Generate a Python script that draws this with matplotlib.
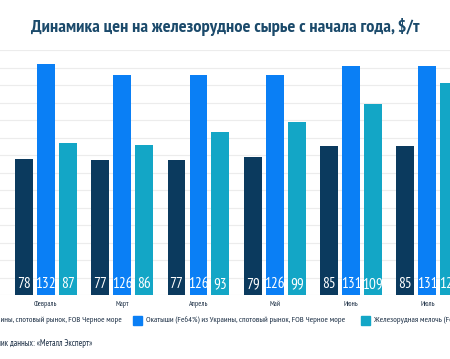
import matplotlib
matplotlib.use("Agg")
import matplotlib.pyplot as plt
from matplotlib.patches import Rectangle
from matplotlib import font_manager
import numpy as np

months = ["Январь", "Февраль", "Март", "Апрель", "Май", "Июнь", "Июль"]
concentrate = [74, 78, 77, 77, 79, 85, 85]
pellets = [120, 132, 126, 126, 126, 131, 131]
fines = [76, 87, 86, 93, 99, 109, 121]

series_labels = [
    "Концентрат (Fe65%) из Украины, спотовый рынок, FOB Черное море",
    "Окатыши (Fe64%) из Украины, спотовый рынок, FOB Черное море",
    "Железорудная мелочь (Fe62%) из Украины, спотовый рынок, FOB Черное море",
]
colors = ["#0b3a5e", "#0a7ff5", "#13a6c6"]
title = "Динамика цен на железорудное сырье с начала года, $/т"
source = "Источник данных: «Металл Эксперт»"

# pick a narrow font that is actually installed
have = {f.name for f in font_manager.fontManager.ttflist}
cands = ["PT Sans Narrow", "Roboto Condensed", "Open Sans Condensed",
         "Fira Sans Condensed", "Sofia Sans Condensed", "Liberation Sans Narrow"]
narrow = [c for c in cands if c in have][:1] + ["DejaVu Sans"]

W, H = 450, 359
fig = plt.figure(figsize=(4.5, 3.59), dpi=100)
fig.patch.set_facecolor("white")

# axes spans the full width; bars outside the figure get cut off like the source crop
ax = fig.add_axes([0, (H - 295) / H, 1, (295 - 50) / H])
group_px = 76.3
left = 1 - 45.8 / group_px
ax.set_xlim(left, left + W / group_px)
ax.set_ylim(0, 140)

x = np.arange(len(months))
width = 0.233
step = 0.288
for k, vals in enumerate([concentrate, pellets, fines]):
    pos = x + (k - 1) * step
    ax.bar(pos, vals, width, color=colors[k], zorder=3)
    for p, v in zip(pos, vals):
        ax.text(p, 2.0, str(v), ha="center", va="bottom", color="white",
                fontsize=11, family=narrow, zorder=4)

ax.set_yticks(np.arange(0, 141, 10))
ax.yaxis.grid(True, color="#ececec", lw=0.8, zorder=0)
ax.tick_params(left=False, labelleft=False, bottom=False, labelbottom=False)
for s in ax.spines.values():
    s.set_visible(False)

for i, m in enumerate(months):
    fx = (i - left) * group_px / W
    fig.text(fx, 1 - 305 / H, m, ha="center", va="center", fontsize=5.4,
             color="#1c2f45", family=narrow)

fig.text(0.5, 1 - 27 / H, title, ha="center", va="center", fontsize=13.3,
         fontweight="bold", color="#1b4a6b", family=narrow)

# legend drawn by hand so the first and last entries run off the edges
leg_sq = [-100, 133, 361]
leg_y = 1 - 320 / H
for k in range(3):
    fig.patches.append(Rectangle((leg_sq[k] / W, leg_y - 4.5 / H), 9 / W, 9 / H,
                                 transform=fig.transFigure, color=colors[k]))
fig.text(122 / W, leg_y, series_labels[0], ha="right", va="center", fontsize=6.1,
         color="#1c2f45", family=narrow)
fig.text(146 / W, leg_y, series_labels[1], ha="left", va="center", fontsize=6.1,
         color="#1c2f45", family=narrow)
fig.text(374 / W, leg_y, series_labels[2], ha="left", va="center", fontsize=6.1,
         color="#1c2f45", family=narrow)

fig.text(92 / W, 1 - 343 / H, source, ha="right", va="center", fontsize=6.3,
         color="#1c2f45", family=narrow)

fig.savefig("out.png", dpi=100, facecolor="white")
